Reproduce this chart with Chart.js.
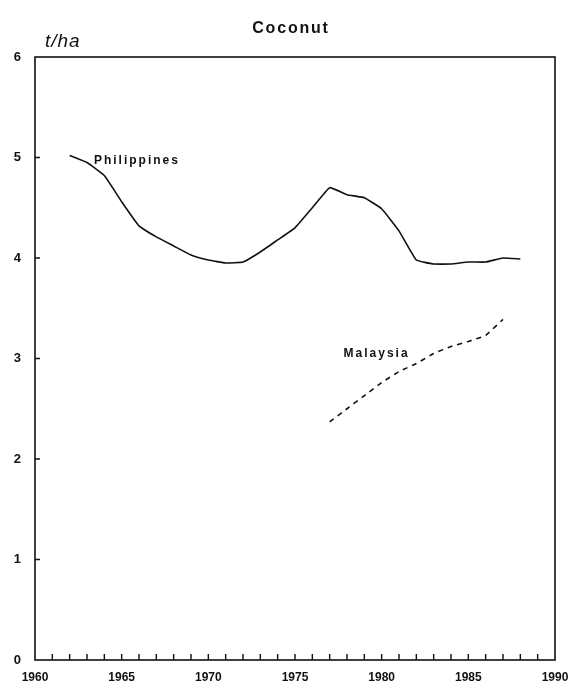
<!DOCTYPE html>
<html>
<head>
<meta charset="utf-8">
<script src="https://cdn.jsdelivr.net/npm/chart.js@4.4.0/dist/chart.umd.min.js"></script>
<style>
  html, body { margin: 0; padding: 0; background: #fff; }
  #wrap { width: 586px; height: 689px; }
</style>
</head>
<body>
<div id="wrap"><canvas id="myChart" width="586" height="689"></canvas></div>
<script>
// yields in t/ha
const philYears = [1962, 1963, 1964, 1965, 1966, 1967, 1968, 1969, 1970, 1971, 1972, 1973, 1974, 1975,
                   1976, 1977, 1978, 1979, 1980, 1981, 1982, 1983, 1984, 1985, 1986, 1987, 1988];
const philValues = [5.02, 4.95, 4.82, 4.56, 4.32, 4.21, 4.12, 4.03, 3.98, 3.95, 3.96, 4.06, 4.18, 4.30,
                    4.50, 4.70, 4.63, 4.60, 4.49, 4.27, 3.98, 3.94, 3.94, 3.96, 3.96, 4.00, 3.99];
const malYears = [1977, 1978, 1979, 1980, 1981, 1982, 1983, 1984, 1985, 1986, 1987];
const malValues = [2.37, 2.50, 2.63, 2.76, 2.87, 2.95, 3.05, 3.12, 3.17, 3.23, 3.39];
const yTicks = [0, 1, 2, 3, 4, 5, 6];
const xLabelYears = [1960, 1965, 1970, 1975, 1980, 1985, 1990];

const toPoints = (xs, ys) => xs.map((x, i) => ({ x: x, y: ys[i] }));

const boxAndLabels = {
  id: 'boxAndLabels',
  afterDraw(chart) {
    const ctx = chart.ctx;
    const a = chart.chartArea;
    const xs = chart.scales.x;
    const ys = chart.scales.y;
    ctx.save();
    ctx.strokeStyle = '#111';
    ctx.lineWidth = 1.6;
    ctx.strokeRect(a.left, a.top, a.right - a.left, a.bottom - a.top);

    // inner ticks
    ctx.lineWidth = 1.4;
    ctx.beginPath();
    for (let yr = 1961; yr < 1990; yr++) {
      const px = xs.getPixelForValue(yr);
      ctx.moveTo(px, a.bottom);
      ctx.lineTo(px, a.bottom - 6);
    }
    yTicks.slice(1, -1).forEach(v => {
      const py = ys.getPixelForValue(v);
      ctx.moveTo(a.left, py);
      ctx.lineTo(a.left + 5, py);
    });
    ctx.stroke();

    // title and unit
    ctx.fillStyle = '#111';
    ctx.textAlign = 'center';
    ctx.textBaseline = 'alphabetic';
    ctx.font = 'bold 16px "Liberation Sans", Arial, sans-serif';
    ctx.letterSpacing = '1.8px';
    ctx.fillText('Coconut', 291, 33);
    ctx.textAlign = 'left';
    ctx.font = 'italic 19px "Liberation Sans", Arial, sans-serif';
    ctx.letterSpacing = '1px';
    ctx.fillText('t/ha', 45, 47);

    // series labels
    ctx.font = 'bold 12px "Liberation Sans", Arial, sans-serif';
    ctx.letterSpacing = '2px';
    ctx.textBaseline = 'middle';
    ctx.fillText('Philippines', xs.getPixelForValue(1963.4), ys.getPixelForValue(4.97));
    ctx.fillText('Malaysia', xs.getPixelForValue(1977.8), ys.getPixelForValue(3.05));
    ctx.restore();
  }
};

new Chart(document.getElementById('myChart').getContext('2d'), {
  type: 'line',
  data: {
    datasets: [
      {
        label: 'Philippines',
        data: toPoints(philYears, philValues),
        borderColor: '#111',
        borderWidth: 1.6,
        pointRadius: 0,
        tension: 0.1,
        fill: false
      },
      {
        label: 'Malaysia',
        data: toPoints(malYears, malValues),
        borderColor: '#111',
        borderWidth: 1.6,
        borderDash: [5, 5],
        pointRadius: 0,
        tension: 0.1,
        fill: false
      }
    ]
  },
  options: {
    responsive: false,
    animation: false,
    devicePixelRatio: 1,
    layout: { padding: { top: 57, right: 31, left: 0, bottom: 0 } },
    plugins: {
      legend: { display: false },
      title: { display: false },
      tooltip: { enabled: false }
    },
    scales: {
      x: {
        type: 'linear',
        min: 1960,
        max: 1990,
        afterFit: s => { s.height = 29; },
        afterBuildTicks: s => { s.ticks = xLabelYears.map(v => ({ value: v })); },
        grid: { display: false, drawTicks: false },
        border: { display: false },
        ticks: {
          color: '#111',
          padding: 10,
          maxRotation: 0,
          font: { family: '"Liberation Sans", Arial, sans-serif', size: 12, weight: 'bold' },
          callback: v => String(v)
        }
      },
      y: {
        min: 0,
        max: 6,
        afterFit: s => { s.width = 35; },
        afterBuildTicks: s => { s.ticks = yTicks.map(v => ({ value: v })); },
        grid: { display: false, drawTicks: false },
        border: { display: false },
        ticks: {
          color: '#111',
          padding: 14,
          font: { family: '"Liberation Sans", Arial, sans-serif', size: 13, weight: 'bold' }
        }
      }
    }
  },
  plugins: [boxAndLabels]
});
</script>
</body>
</html>
